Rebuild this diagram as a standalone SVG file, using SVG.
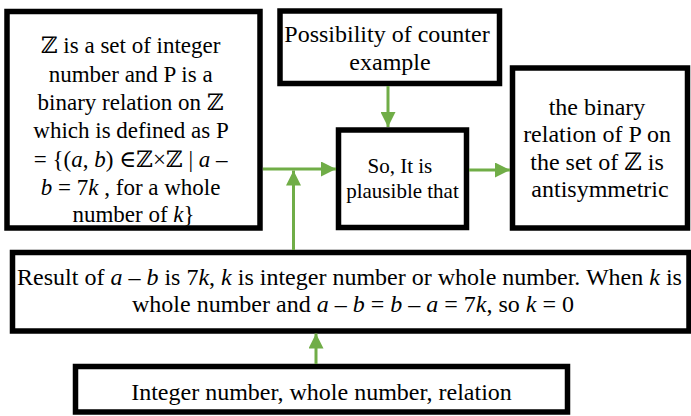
<svg xmlns="http://www.w3.org/2000/svg" width="691" height="416" viewBox="0 0 691 416">
<defs>
<style>
.box{fill:#fff;stroke:#000;stroke-width:5.5}
text{font-family:'Liberation Serif','Times New Roman','DejaVu Serif',serif;fill:#000;text-anchor:middle}
.i{font-style:italic}
.c{fill:none;stroke:#70AD47;stroke-width:3}
</style>
<marker id="ah" markerUnits="userSpaceOnUse" markerWidth="15" markerHeight="15" refX="15" refY="7.5" orient="auto">
<path d="M0,0 L15,7.5 L0,15 z" fill="#70AD47"/>
</marker>
</defs>
<rect width="691" height="416" fill="#fff"/>
<g id="n1">
<rect class="box" x="7" y="11.5" width="253" height="216.5"/>
<text font-size="23">
<tspan x="133.5" y="53">ℤ is a set of integer</tspan>
<tspan x="133.5" y="81.5">number and P is a</tspan>
<tspan x="133.5" y="110">binary relation on ℤ</tspan>
<tspan x="133.5" y="138">which is defined as P</tspan>
<tspan x="133.5" y="166.5">= {(<tspan class="i">a</tspan>, <tspan class="i">b</tspan>) ∈ℤ×ℤ | <tspan class="i">a</tspan> –</tspan>
<tspan x="133.5" y="195"><tspan class="i">b</tspan> = 7<tspan class="i">k</tspan> , for a whole</tspan>
<tspan x="133.5" y="222">number of <tspan class="i">k</tspan>}</tspan>
</text>
</g>
<g id="n2">
<rect class="box" x="280" y="11" width="219.5" height="72.5"/>
<text font-size="24">
<tspan x="390" y="42">Possibility of counter</tspan>
<tspan x="390" y="70">example</tspan>
</text>
</g>
<g id="n3">
<rect class="box" x="338.5" y="130" width="128" height="97.5"/>
<text font-size="21">
<tspan x="402.5" y="173">So, It is</tspan>
<tspan x="402.5" y="198">plausible that</tspan>
</text>
</g>
<g id="n4">
<rect class="box" x="512.5" y="68" width="175" height="160"/>
<text font-size="24">
<tspan x="600" y="115">the binary</tspan>
<tspan x="600" y="142">relation of P on</tspan>
<tspan x="600" y="169.5">the set of ℤ is</tspan>
<tspan x="600" y="197">antisymmetric</tspan>
</text>
</g>
<g id="n5">
<rect class="box" x="12.5" y="252.5" width="676.5" height="78.5"/>
<text font-size="24">
<tspan x="352.5" y="285">Result of <tspan class="i">a</tspan> – <tspan class="i">b</tspan> is 7<tspan class="i">k</tspan>, <tspan class="i">k</tspan> is integer number or whole number. When <tspan class="i">k</tspan>  is</tspan>
<tspan x="353" y="312">whole number and <tspan class="i">a</tspan> – <tspan class="i">b</tspan> = <tspan class="i">b</tspan> – <tspan class="i">a</tspan> = 7<tspan class="i">k</tspan>, so <tspan class="i">k</tspan> = 0</tspan>
</text>
</g>
<g id="n6">
<rect class="box" x="75.5" y="366.5" width="492" height="45.5"/>
<text font-size="24" x="321.5" y="400">Integer number, whole number, relation</text>
</g>
<g id="connectors">
<path class="c" d="M263,169 L336,169" marker-end="url(#ah)"/>
<path class="c" d="M293.5,250 L293.5,170.5" marker-end="url(#ah)"/>
<path class="c" d="M388,86 L388,127" marker-end="url(#ah)"/>
<path class="c" d="M469,170 L510,170" marker-end="url(#ah)"/>
<path class="c" d="M316,364 L316,333.5" marker-end="url(#ah)"/>
</g>
</svg>
